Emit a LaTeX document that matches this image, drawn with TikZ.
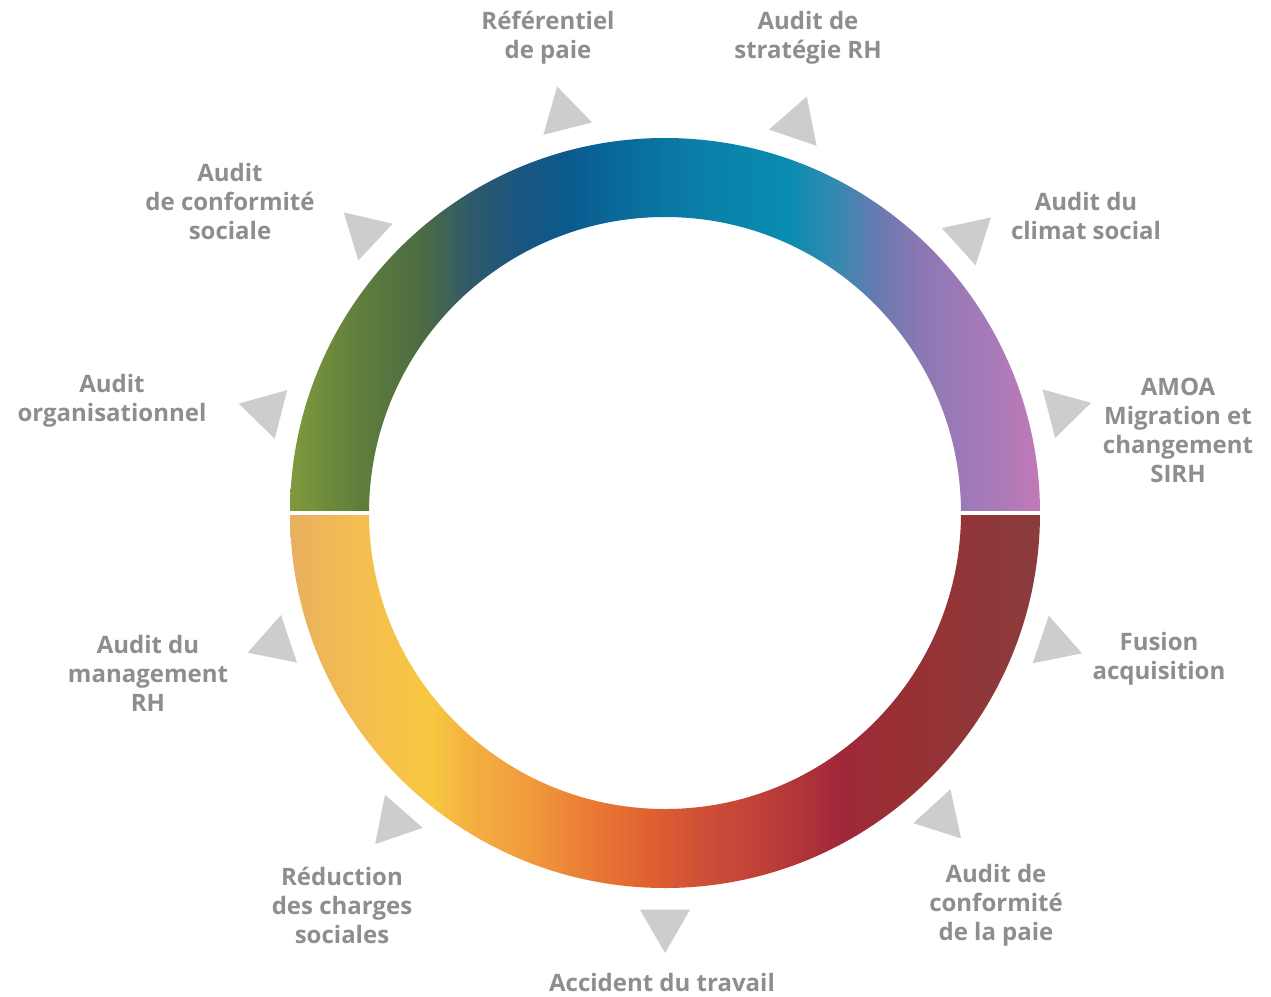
\documentclass[tikz,border=0pt]{standalone}
\usepackage{fontspec}
\setmainfont{Open Sans}
\usetikzlibrary{calc}
\definecolor{txtgray}{HTML}{8E8E8E}
\definecolor{trigray}{HTML}{CDCDCD}
% top half colours
\definecolor{tA}{HTML}{7F9A3C}
\definecolor{tB}{HTML}{5F7E3C}
\definecolor{tC}{HTML}{4D6C42}
\definecolor{tD}{HTML}{2F5A6A}
\definecolor{tE}{HTML}{1A5580}
\definecolor{tF}{HTML}{0A5A8E}
\definecolor{tG}{HTML}{0A6A9A}
\definecolor{tH}{HTML}{0A80A8}
\definecolor{tI}{HTML}{0A8CB0}
\definecolor{tJ}{HTML}{3A88B0}
\definecolor{tK}{HTML}{6A7AB0}
\definecolor{tL}{HTML}{8A78B4}
\definecolor{tM}{HTML}{A47AB8}
\definecolor{tN}{HTML}{C07AB8}
% bottom half colours
\definecolor{bA}{HTML}{E8B060}
\definecolor{bB}{HTML}{F4BE50}
\definecolor{bC}{HTML}{F8C840}
\definecolor{bD}{HTML}{F4B040}
\definecolor{bE}{HTML}{F09A3C}
\definecolor{bF}{HTML}{EA7A34}
\definecolor{bG}{HTML}{E06030}
\definecolor{bH}{HTML}{D05038}
\definecolor{bI}{HTML}{C04038}
\definecolor{bJ}{HTML}{A0283A}
\definecolor{bK}{HTML}{983034}
\definecolor{bL}{HTML}{8A3C3C}
\pgfdeclarehorizontalshading{topgrad}{100bp}{color(0bp)=(tA); color(25bp)=(tA); color(29.67bp)=(tB); color(33.67bp)=(tC); color(37bp)=(tD); color(40.33bp)=(tE); color(43.5bp)=(tF); color(47bp)=(tG); color(52.33bp)=(tH); color(58.33bp)=(tI); color(61.67bp)=(tJ); color(64.33bp)=(tK); color(67bp)=(tL); color(71bp)=(tM); color(75bp)=(tN); color(100bp)=(tN)}
\pgfdeclarehorizontalshading{botgrad}{100bp}{color(0bp)=(bA); color(25bp)=(bA); color(29.67bp)=(bB); color(34.33bp)=(bC); color(37bp)=(bD); color(41bp)=(bE); color(45bp)=(bF); color(49bp)=(bG); color(52.33bp)=(bH); color(56.33bp)=(bI); color(61.67bp)=(bJ); color(65.67bp)=(bK); color(75bp)=(bL); color(100bp)=(bL)}
\tikzset{
  lbl/.style={text=txtgray, font=\fontsize{24}{29}\selectfont\bfseries, align=center, inner sep=0pt},
  tri/.style={fill=trigray, draw=none}
}
\newcommand{\mytri}[1]{%
  \fill[tri] ($(C)+(-#1:411)+(-#1:29)$) -- ($(C)+(-#1:411)+(-#1+120:29)$) -- ($(C)+(-#1:411)+(-#1-120:29)$) -- cycle;}
\begin{document}
\begin{tikzpicture}[x=1pt,y=-1pt]
\useasboundingbox[fill=white] (0,0) rectangle (1271,996);
\coordinate (C) at (665,513);
% top half ring
\begin{scope}
  \clip (1040,513) arc[start angle=0,end angle=-180,radius=375] -- (369,513) arc[start angle=-180,end angle=0,radius=296] -- cycle;
  \shade[shading=topgrad] (290,130) rectangle (1040,513);
\end{scope}
% bottom half ring
\begin{scope}
  \clip (1040,513) arc[start angle=0,end angle=180,radius=375] -- (369,513) arc[start angle=180,end angle=0,radius=296] -- cycle;
  \shade[shading=botgrad] (290,513) rectangle (1040,896);
\end{scope}
\draw[white, line width=4pt] (284,513) -- (1046,513);
% triangles
\mytri{104.2}
\mytri{71.2}
\mytri{42.2}
\mytri{14.5}
\mytri{-18.6}
\mytri{-47.7}
\mytri{-90}
\mytri{-131.2}
\mytri{-161.5}
\mytri{165.6}
\mytri{136.9}
% labels
\node[lbl] (ref) at (548,38) {Référentiel\\de paie};
\node[lbl] (strat) at (808,38) {Audit de\\stratégie RH};
\node[lbl] (climat) at (1086,216) {Audit du\\climat social};
\node[lbl] (amoa) at (1178,430) {AMOA\\Migration et\\changement\\SIRH};
\node[lbl] (fusion) at (1159,659) {Fusion\\acquisition};
\node[lbl] (paie) at (996,905.5) {Audit de\\conformité\\de la paie};
\node[lbl] (accident) at (662,982.5) {Accident du travail};
\node[lbl] (reduc) at (342,905.5) {Réduction\\des charges\\sociales};
\node[lbl] (mgmt) at (148,673.5) {Audit du\\management\\RH};
\node[lbl] (orga) at (112,401) {Audit\\organisationnel};
\node[lbl] (confsoc) at (230,201.5) {Audit\\de conformité\\sociale};
\end{tikzpicture}
\end{document}
